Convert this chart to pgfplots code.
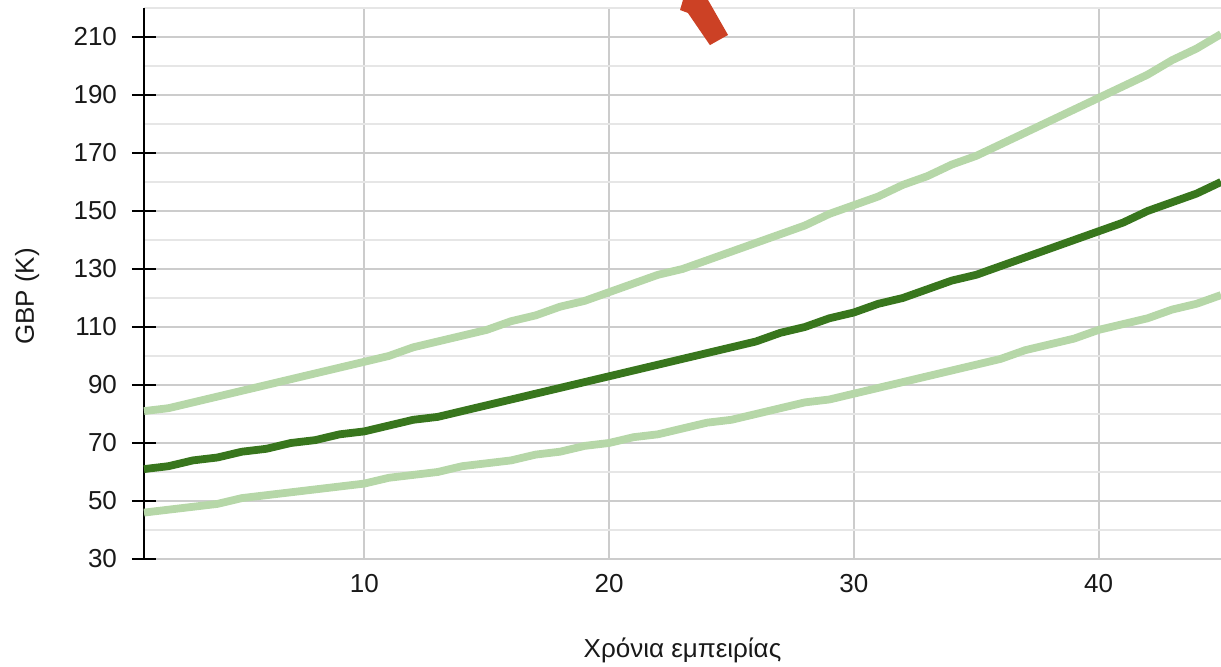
\documentclass[border=0pt]{standalone}
\usepackage{pgfplots}
\pgfplotsset{compat=1.18}
\usepackage{fontspec}
\setmainfont{Liberation Sans}
\definecolor{lightg}{HTML}{B6D7A8}
\definecolor{darkg}{HTML}{38761D}
\definecolor{arrowred}{HTML}{CC4125}
\definecolor{gmaj}{HTML}{CCCCCC}
\definecolor{gmin}{HTML}{E6E6E6}
\begin{document}
\begin{tikzpicture}
\begin{axis}[
  scale only axis,
  width=538.5pt, height=275.5pt,
  xmin=1, xmax=45, ymin=30, ymax=220,
  clip=false,
  axis lines*=left,
  x axis line style={draw=none},
  y axis line style={black, line width=1pt},
  xtick={10,20,30,40},
  ytick={30,50,...,210},
  minor ytick={40,60,...,220},
  xmajorgrids, ymajorgrids, yminorgrids,
  major grid style={gmaj, line width=1pt},
  minor grid style={gmin, line width=1pt},
  xtick style={draw=none},
  ytick style={black, line width=1pt},
  minor tick length=0pt,
  major tick length=12pt,
  tick align=center,
  tick label style={font=\fontsize{13}{15}\selectfont, text=black!90},
  /pgf/number format/assume math mode=true,
  xticklabel style={yshift=2pt},
  yticklabel style={xshift=-4pt},
  label style={font=\fontsize{13}{15}\selectfont, text=black!90},
  xlabel={Χρόνια εμπειρίας},
  ylabel={GBP (K)},
  xlabel style={at={(axis description cs:0.5,0)}, anchor=base, yshift=-49.5pt},
  ylabel style={at={(axis description cs:0,0.5)}, anchor=base, yshift=55pt, xshift=-6.5pt},
]
\addplot[lightg, line width=3.9pt, line join=round] coordinates {
(1,81)(2,82)(3,84)(4,86)(5,88)(6,90)(7,92)(8,94)(9,96)(10,98)
(11,100)(12,103)(13,105)(14,107)(15,109)(16,112)(17,114)(18,117)(19,119)(20,122)
(21,125)(22,128)(23,130)(24,133)(25,136)(26,139)(27,142)(28,145)(29,149)(30,152)
(31,155)(32,159)(33,162)(34,166)(35,169)(36,173)(37,177)(38,181)(39,185)(40,189)
(41,193)(42,197)(43,202)(44,206)(45,211)};
\addplot[lightg, line width=3.9pt, line join=round] coordinates {
(1,46)(2,47)(3,48)(4,49)(5,51)(6,52)(7,53)(8,54)(9,55)(10,56)
(11,58)(12,59)(13,60)(14,62)(15,63)(16,64)(17,66)(18,67)(19,69)(20,70)
(21,72)(22,73)(23,75)(24,77)(25,78)(26,80)(27,82)(28,84)(29,85)(30,87)
(31,89)(32,91)(33,93)(34,95)(35,97)(36,99)(37,102)(38,104)(39,106)(40,109)
(41,111)(42,113)(43,116)(44,118)(45,121)};
\addplot[darkg, line width=3.9pt, line join=round] coordinates {
(1,61)(2,62)(3,64)(4,65)(5,67)(6,68)(7,70)(8,71)(9,73)(10,74)
(11,76)(12,78)(13,79)(14,81)(15,83)(16,85)(17,87)(18,89)(19,91)(20,93)
(21,95)(22,97)(23,99)(24,101)(25,103)(26,105)(27,108)(28,110)(29,113)(30,115)
(31,118)(32,120)(33,123)(34,126)(35,128)(36,131)(37,134)(38,137)(39,140)(40,143)
(41,146)(42,150)(43,153)(44,156)(45,160)};
\fill[arrowred] (axis cs:23.02,222.8) -- (axis cs:22.90,219.3) -- (axis cs:23.22,218.3)
  -- (axis cs:24.12,207.2) -- (axis cs:24.86,210.7) -- (axis cs:24.04,222.8) -- cycle;
\end{axis}
\pgfresetboundingbox
\useasboundingbox ([xshift=-72pt,yshift=-54pt]current axis.south west) rectangle ([yshift=4pt]current axis.north east);
\end{tikzpicture}
\end{document}
